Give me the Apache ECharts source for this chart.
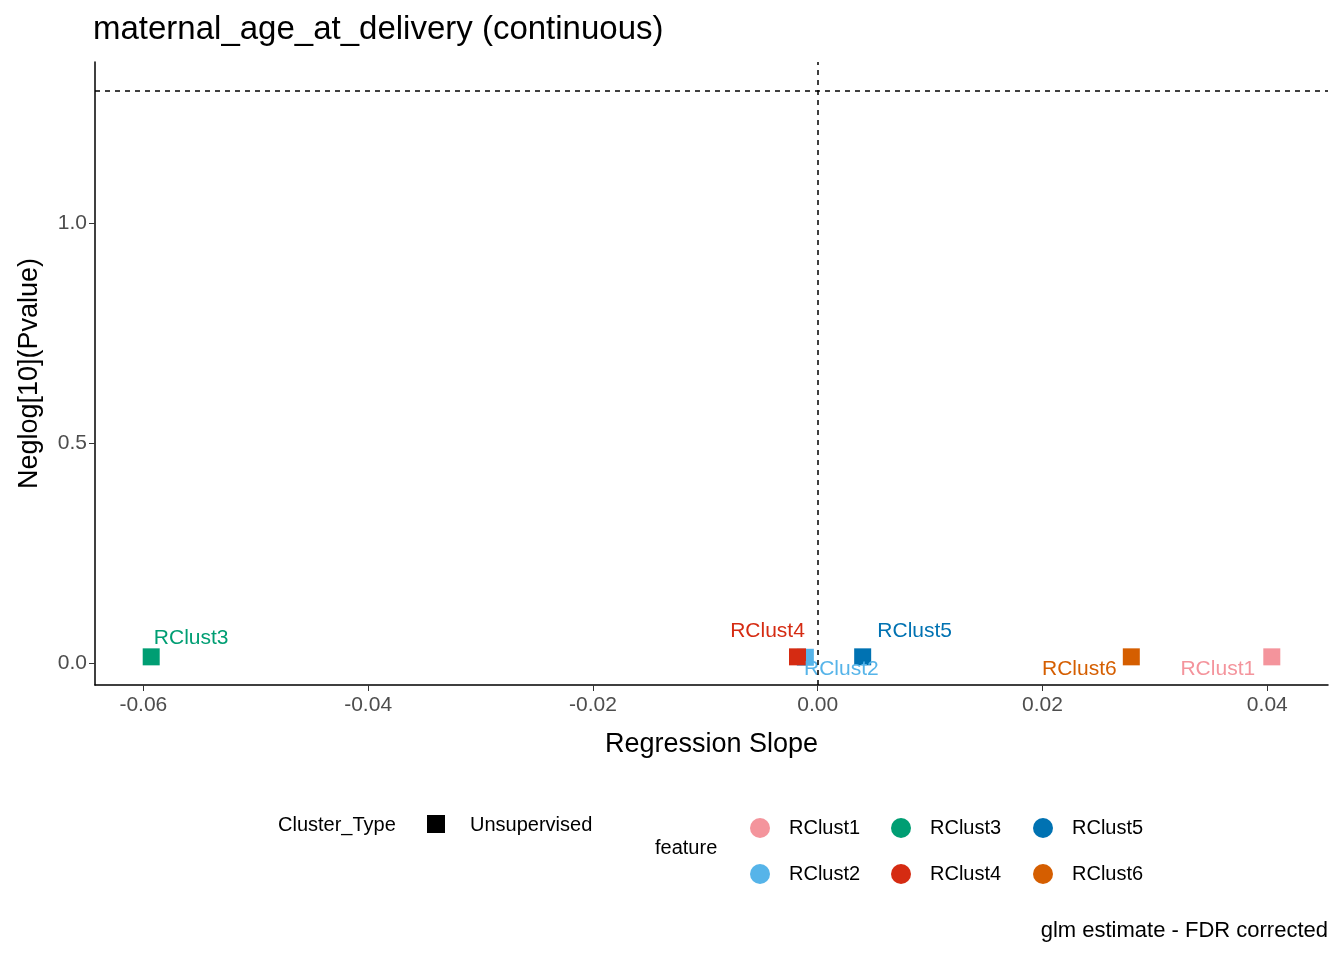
<!DOCTYPE html>
<html>
<head>
<meta charset="utf-8">
<script src="https://cdn.jsdelivr.net/npm/echarts@6/dist/echarts.min.js"></script>
<style>html,body{margin:0;padding:0;background:#fff}#main{width:1344px;height:960px}</style>
</head>
<body>
<div id="main"></div>
<script>
// data
const features = ['RClust1', 'RClust2', 'RClust3', 'RClust4', 'RClust5', 'RClust6'];
const slopes = [0.0404, -0.0011, -0.0593, -0.0018, 0.0040, 0.0279];
const neglogP = [0.014, 0.013, 0.014, 0.014, 0.014, 0.014];
const colors = ['#F4949C', '#56B4E9', '#009E73', '#D52B12', '#0072B2', '#D55E00'];
const labelPos = [[-54, 12], [36, 12], [40, -19], [-30, -26], [52, -26], [-52, 12]];
const xTicks = [-0.06, -0.04, -0.02, 0, 0.02, 0.04];
const yTicks = [0, 0.5, 1.0];
const xMin = -0.0643, xMax = 0.0454;
const pThreshold = 1.302;

const font = 'Arial, "Liberation Sans", sans-serif';
let chart = echarts.init(document.getElementById('main'));

let series = features.map((f, i) => ({
    name: f,
    type: 'scatter',
    symbol: 'rect',
    symbolSize: 17,
    itemStyle: {color: colors[i], opacity: 1},
    data: [[slopes[i], neglogP[i]]],
    label: {
        show: true, formatter: f, position: 'inside', offset: labelPos[i],
        color: colors[i], fontSize: 21, fontFamily: font
    },
    z: 3
}));

series.push({
    type: 'scatter',
    symbol: 'circle',
    symbolSize: 1,
    itemStyle: {opacity: 0},
    silent: true,
    data: [
        {value: [xMin, 0], label: {position: 'right', distance: 0, formatter: 'Decreasing with maternal_age_at_delivery'}},
        {value: [xMax, 0], label: {position: 'left', distance: 0, formatter: 'Increasing with maternal_age_at_delivery'}}
    ],
    label: {show: true, color: '#CC2B1D', fontSize: 27, fontFamily: font},
    markLine: {
        symbol: 'none', silent: true, label: {show: false},
        lineStyle: {color: '#000', type: [5, 5], width: 1.5},
        data: [{xAxis: 0}, {yAxis: pThreshold}]
    },
    z: 5
});

let legendBase = {
    icon: 'circle', itemWidth: 20, itemHeight: 20, itemGap: 26, orient: 'vertical',
    textStyle: {fontSize: 20, fontFamily: font, color: '#000', padding: [0, 0, 0, 14]}
};

let option = {
    animation: false,
    title: {
        text: 'maternal_age_at_delivery (continuous)', left: 88, top: 8,
        textStyle: {fontSize: 33, fontWeight: 'normal', color: '#000', fontFamily: font}
    },
    grid: {left: 95, right: 16, top: 62, bottom: 275},
    xAxis: {
        type: 'value', min: xMin, max: xMax,
        name: 'Regression Slope', nameLocation: 'middle', nameGap: 46,
        nameTextStyle: {fontSize: 27, color: '#000', fontFamily: font},
        axisLine: {onZero: false, lineStyle: {color: '#000', width: 1.5}},
        axisTick: {show: true, length: 6, customValues: xTicks, lineStyle: {color: '#333'}},
        axisLabel: {customValues: xTicks, fontSize: 21, color: '#4d4d4d', fontFamily: font, margin: 10,
            formatter: v => v.toFixed(2)},
        splitLine: {show: false}
    },
    yAxis: {
        type: 'value', min: -0.05, max: 1.366,
        name: 'Neglog[10](Pvalue)', nameLocation: 'middle', nameGap: 52,
        nameTextStyle: {fontSize: 27, color: '#000', fontFamily: font},
        axisLine: {onZero: false, lineStyle: {color: '#000', width: 1.5}},
        axisTick: {show: true, length: 6, customValues: yTicks, lineStyle: {color: '#333'}},
        axisLabel: {customValues: yTicks, fontSize: 21, color: '#4d4d4d', fontFamily: font, margin: 8,
            formatter: v => v.toFixed(1)},
        splitLine: {show: false}
    },
    legend: [
        Object.assign({}, legendBase, {data: ['RClust1', 'RClust2'], left: 745, top: 813}),
        Object.assign({}, legendBase, {data: ['RClust3', 'RClust4'], left: 886, top: 813}),
        Object.assign({}, legendBase, {data: ['RClust5', 'RClust6'], left: 1028, top: 813})
    ],
    graphic: [
        {type: 'text', left: 278, top: 815, style: {text: 'Cluster_Type', fontSize: 20, fontFamily: font, fill: '#000'}},
        {type: 'rect', left: 427, top: 815, shape: {width: 18, height: 18}, style: {fill: '#000'}},
        {type: 'text', left: 470, top: 815, style: {text: 'Unsupervised', fontSize: 20, fontFamily: font, fill: '#000'}},
        {type: 'text', left: 655, top: 838, style: {text: 'feature', fontSize: 20, fontFamily: font, fill: '#000'}},
        {type: 'text', right: 16, top: 920, style: {text: 'glm estimate - FDR corrected', fontSize: 22, fontFamily: font, fill: '#000'}}
    ],
    series: series
};

chart.setOption(option);
</script>
</body>
</html>
